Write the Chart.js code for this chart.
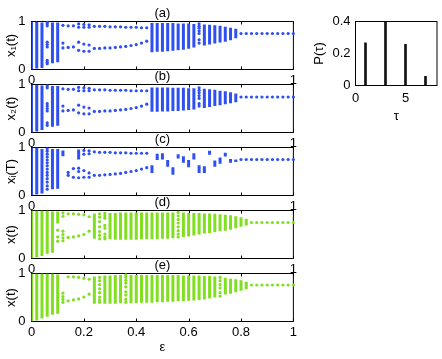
<!DOCTYPE html>
<html><head><meta charset="utf-8">
<script src="https://cdn.jsdelivr.net/npm/chart.js@4"></script>
<style>
html,body{margin:0;padding:0;background:#fff;}
#wrap{position:relative;width:442px;height:359px;overflow:hidden;background:#fff;}
canvas{position:absolute;}
</style></head><body><div id="wrap"></div>
<script>
// ---------- DATA ----------
const xTickVals = [0, 0.2, 0.4, 0.6, 0.8, 1];
const xLabelsFull = ['0', '0.2', '0.4', '0.6', '0.8', '1'];
const xLabelsEnds = ['0', '', '', '', '', '1'];
const yTickVals = [0, 1];
const yLabels = ['0', '1'];

// panel (a)
const aBandEps = [0, 0.02, 0.04, 0.08, 0.10, 0.46, 0.48, 0.50, 0.52, 0.54, 0.56, 0.58, 0.60, 0.62, 0.66, 0.68, 0.70, 0.72, 0.74, 0.76, 0.78];
const aBandLo  = [0, 0.02, 0.03, 0.13, 0.15, 0.36, 0.37, 0.37, 0.38, 0.39, 0.40, 0.41, 0.43, 0.46, 0.50, 0.52, 0.54, 0.56, 0.58, 0.61, 0.65];
const aBandHi  = [1, 1, 0.98, 0.98, 0.98, 0.97, 0.97, 0.97, 0.97, 0.97, 0.96, 0.96, 0.96, 0.95, 0.94, 0.93, 0.92, 0.91, 0.89, 0.87, 0.85];
const aDotEps  = [0.06, 0.12, 0.14, 0.16, 0.18, 0.20, 0.22, 0.24, 0.26, 0.28, 0.30, 0.32, 0.34, 0.36, 0.38, 0.40, 0.42, 0.44, 0.64, 0.80, 0.82, 0.84, 0.86, 0.88, 0.90, 0.92, 0.94, 0.96, 0.98, 1.00];
const aDotVals = [[0.98, 0.95, 0.91, 0.57, 0.52, 0.47, 0.19, 0.15, 0.12], [0.92, 0.55, 0.45], [0.91, 0.46], [0.91, 0.47], [0.95, 0.88, 0.57, 0.40], [0.94, 0.88, 0.53, 0.38], [0.93, 0.88, 0.51, 0.38], [0.90, 0.44], [0.90, 0.44], [0.90, 0.45], [0.89, 0.45], [0.89, 0.46], [0.89, 0.47], [0.88, 0.48], [0.88, 0.50], [0.88, 0.52], [0.87, 0.55], [0.87, 0.59], [0.95, 0.90, 0.86, 0.80, 0.75, 0.62, 0.55], [0.75], [0.75], [0.75], [0.75], [0.75], [0.75], [0.75], [0.75], [0.75], [0.75], [0.75]];

// panel (b)
const bBandEps = [0, 0.02, 0.04, 0.08, 0.10, 0.46, 0.48, 0.50, 0.52, 0.54, 0.56, 0.58, 0.60, 0.62, 0.66, 0.68, 0.70, 0.72, 0.74, 0.76, 0.78];
const bBandLo  = [0, 0.02, 0.05, 0.12, 0.14, 0.43, 0.43, 0.44, 0.44, 0.45, 0.45, 0.46, 0.47, 0.48, 0.51, 0.53, 0.55, 0.57, 0.59, 0.61, 0.63];
const bBandHi  = [1, 1, 0.98, 0.97, 0.97, 0.94, 0.94, 0.94, 0.94, 0.93, 0.93, 0.93, 0.92, 0.92, 0.91, 0.90, 0.89, 0.87, 0.86, 0.84, 0.81];
const bDotEps  = [0.06, 0.12, 0.14, 0.16, 0.18, 0.20, 0.22, 0.24, 0.26, 0.28, 0.30, 0.32, 0.34, 0.36, 0.38, 0.40, 0.42, 0.44, 0.64, 0.80, 0.82, 0.84, 0.86, 0.88, 0.90, 0.92, 0.94, 0.96, 0.98, 1.00];
const bDotVals = [[0.97, 0.93, 0.60, 0.55, 0.50, 0.45, 0.20, 0.15], [0.91, 0.55, 0.45], [0.90, 0.46], [0.90, 0.47], [0.94, 0.87, 0.57, 0.41], [0.93, 0.87, 0.53, 0.39], [0.92, 0.87, 0.51, 0.39], [0.89, 0.44], [0.89, 0.44], [0.89, 0.45], [0.88, 0.45], [0.88, 0.46], [0.88, 0.47], [0.88, 0.48], [0.87, 0.50], [0.87, 0.52], [0.87, 0.55], [0.87, 0.59], [0.93, 0.88, 0.83, 0.77, 0.71, 0.60, 0.55], [0.74], [0.74], [0.74], [0.74], [0.74], [0.74], [0.74], [0.74], [0.74], [0.74], [0.74]];

// panel (c)
const cBandEps = [0, 0.02, 0.04, 0.08, 0.10, 0.12, 0.18, 0.46, 0.48, 0.50, 0.52, 0.54, 0.56, 0.58, 0.60, 0.62, 0.64, 0.66, 0.68, 0.70, 0.72, 0.74, 0.76, 0.78];
const cBandLo  = [0, 0.02, 0.04, 0.13, 0.14, 0.82, 0.75, 0.47, 0.74, 0.75, 0.60, 0.43, 0.77, 0.68, 0.59, 0.75, 0.47, 0.47, 0.85, 0.60, 0.66, 0.81, 0.68, 0.70];
const cBandHi  = [1, 1, 0.97, 0.97, 0.97, 0.94, 0.96, 0.63, 0.87, 0.88, 0.74, 0.59, 0.86, 0.82, 0.74, 0.88, 0.63, 0.61, 0.93, 0.73, 0.79, 0.89, 0.76, 0.75];
const cDotEps  = [0.06, 0.14, 0.16, 0.18, 0.20, 0.22, 0.24, 0.26, 0.28, 0.30, 0.32, 0.34, 0.36, 0.38, 0.40, 0.42, 0.44, 0.80, 0.82, 0.84, 0.86, 0.88, 0.90, 0.92, 0.94, 0.96, 0.98, 1.00];
const cDotVals = [[0.97, 0.92, 0.86, 0.80, 0.74, 0.68, 0.62, 0.55, 0.48, 0.42, 0.35, 0.28, 0.20, 0.13], [0.48, 0.42], [0.56, 0.38], [0.57, 0.50, 0.37], [0.94, 0.86, 0.52, 0.38], [0.93, 0.87, 0.47, 0.38], [0.91, 0.42], [0.90, 0.42], [0.90, 0.43], [0.90, 0.44], [0.89, 0.45], [0.89, 0.46], [0.89, 0.48], [0.88, 0.50], [0.88, 0.52], [0.88, 0.55], [0.88, 0.58], [0.75], [0.75], [0.75], [0.75], [0.75], [0.75], [0.75], [0.75], [0.75], [0.75], [0.75]];

// panel (d)
const dBandEps = [0, 0.02, 0.04, 0.06, 0.08, 0.10, 0.24, 0.30, 0.32, 0.34, 0.36, 0.38, 0.40, 0.42, 0.44, 0.46, 0.48, 0.50, 0.52, 0.54, 0.58, 0.60, 0.62, 0.64, 0.66, 0.68, 0.70, 0.72, 0.74, 0.76, 0.78, 0.80, 0.82];
const dBandLo  = [0, 0.02, 0.05, 0.10, 0.12, 0.73, 0.41, 0.40, 0.39, 0.39, 0.39, 0.39, 0.39, 0.40, 0.40, 0.40, 0.40, 0.41, 0.41, 0.42, 0.45, 0.46, 0.48, 0.50, 0.52, 0.53, 0.55, 0.57, 0.58, 0.60, 0.63, 0.66, 0.69];
const dBandHi  = [1, 1, 1, 1, 0.98, 0.98, 0.94, 0.95, 0.95, 0.96, 0.96, 0.96, 0.96, 0.96, 0.96, 0.96, 0.96, 0.96, 0.96, 0.96, 0.96, 0.95, 0.95, 0.95, 0.94, 0.94, 0.93, 0.92, 0.91, 0.90, 0.88, 0.86, 0.83];
const dDotEps  = [0.10, 0.12, 0.14, 0.16, 0.18, 0.20, 0.22, 0.26, 0.28, 0.56, 0.84, 0.86, 0.88, 0.90, 0.92, 0.94, 0.96, 0.98, 1.00];
const dDotVals = [[0.59, 0.45, 0.36], [0.95, 0.88, 0.57, 0.50, 0.43, 0.37], [0.93, 0.44], [0.93, 0.45], [0.92, 0.47], [0.91, 0.50], [0.87, 0.57], [0.93, 0.86, 0.77, 0.66, 0.56, 0.48, 0.41], [0.94, 0.89, 0.84, 0.69, 0.63, 0.51, 0.45, 0.41], [0.96, 0.89, 0.81, 0.74, 0.66, 0.58, 0.51, 0.45], [0.75], [0.75], [0.75], [0.75], [0.75], [0.75], [0.75], [0.75], [0.75]];

// panel (e)
const eBandEps = [0, 0.02, 0.04, 0.06, 0.08, 0.10, 0.24, 0.28, 0.30, 0.32, 0.34, 0.38, 0.40, 0.42, 0.44, 0.46, 0.48, 0.50, 0.52, 0.54, 0.56, 0.58, 0.60, 0.62, 0.64, 0.66, 0.68, 0.70, 0.74, 0.76, 0.78, 0.80, 0.82];
const eBandLo  = [0, 0.02, 0.06, 0.10, 0.14, 0.16, 0.37, 0.37, 0.37, 0.37, 0.38, 0.38, 0.38, 0.39, 0.39, 0.39, 0.40, 0.40, 0.41, 0.41, 0.42, 0.42, 0.43, 0.44, 0.45, 0.46, 0.48, 0.50, 0.56, 0.58, 0.61, 0.64, 0.67];
const eBandHi  = [1, 1, 1, 1, 1, 0.98, 0.94, 0.96, 0.96, 0.97, 0.97, 0.97, 0.97, 0.97, 0.97, 0.97, 0.97, 0.97, 0.97, 0.97, 0.97, 0.96, 0.96, 0.96, 0.96, 0.95, 0.95, 0.94, 0.91, 0.89, 0.88, 0.86, 0.83];
const eDotEps  = [0.12, 0.14, 0.16, 0.18, 0.20, 0.22, 0.26, 0.36, 0.72, 0.84, 0.86, 0.88, 0.90, 0.92, 0.94, 0.96, 0.98, 1.00];
const eDotVals = [[0.59, 0.52, 0.46, 0.40], [0.93, 0.43], [0.93, 0.45], [0.92, 0.47], [0.90, 0.51], [0.88, 0.57], [0.92, 0.85, 0.77, 0.68, 0.60, 0.51, 0.45, 0.40], [0.97, 0.92, 0.86, 0.80, 0.72, 0.62, 0.55, 0.46, 0.40], [0.92, 0.85, 0.77, 0.70, 0.60, 0.53], [0.76], [0.76], [0.76], [0.76], [0.76], [0.76], [0.76], [0.76], [0.76]];

// inset
const tauVals = [1, 3, 5, 7];
const pTauVals = [0.267, 0.42, 0.257, 0.057];
const insetXTicks = [0, 5];
const insetYTicks = [0, 0.2, 0.4];
const insetYLabels = ['0', '0.2', '0.4'];

// ---------- STYLE / LAYOUT ----------
const BLUE = '#2e50f2', GREEN = '#80e020';
const FONT = "'Liberation Sans', Arial, Helvetica, sans-serif";
Chart.defaults.font.family = FONT;
Chart.defaults.font.size = 13;
Chart.defaults.color = '#000';

const boxPlugin = {
  id: 'box',
  beforeDatasetsDraw(chart, args, opts) {
    const {ctx, chartArea: a} = chart;
    ctx.save();
    ctx.strokeStyle = '#000';
    ctx.lineWidth = 1;
    ctx.strokeRect(a.left, a.top, a.right - a.left, a.bottom - a.top);
    if (opts && opts.inner) {
      const xs = chart.scales.x;
      ctx.beginPath();
      xs.ticks.forEach(t => {
        const p = Math.round(xs.getPixelForValue(t.value)) + 0.5;
        ctx.moveTo(p, a.bottom); ctx.lineTo(p, a.bottom - 3);
        ctx.moveTo(p, a.top); ctx.lineTo(p, a.top + 3);
      });
      ctx.stroke();
    }
    ctx.restore();
  }
};

const wrap = document.getElementById('wrap');
function addCanvas(left, top, w, h) {
  const c = document.createElement('canvas');
  c.width = w; c.height = h;
  c.style.left = left + 'px'; c.style.top = top + 'px';
  c.style.width = w + 'px'; c.style.height = h + 'px';
  wrap.appendChild(c);
  return c;
}

const panels = [
  {top: 21.5, bottom: 69.5, title: '(a)', ylab: 'x\u2081(t)', be: aBandEps, bl: aBandLo, bh: aBandHi, de: aDotEps, dv: aDotVals, color: BLUE, last: false},
  {top: 84.5, bottom: 132.5, title: '(b)', ylab: 'x\u2082(t)', be: bBandEps, bl: bBandLo, bh: bBandHi, de: bDotEps, dv: bDotVals, color: BLUE, last: false},
  {top: 147.5, bottom: 195.5, title: '(c)', ylab: 'x\u1D62(T)', be: cBandEps, bl: cBandLo, bh: cBandHi, de: cDotEps, dv: cDotVals, color: BLUE, last: false},
  {top: 210.5, bottom: 258.5, title: '(d)', ylab: 'x(t)', be: dBandEps, bl: dBandLo, bh: dBandHi, de: dDotEps, dv: dDotVals, color: GREEN, last: false},
  {top: 273.5, bottom: 321.5, title: '(e)', ylab: 'x(t)', be: eBandEps, bl: eBandLo, bh: eBandHi, de: eDotEps, dv: eDotVals, color: GREEN, last: true}
];

const TITLE_H = 13 * 1.2;
const PLOT_LEFT = 31.5, PLOT_RIGHT = 293.5, CW = 300;

panels.forEach(p => {
  const canvasTop = Math.floor(p.top - TITLE_H);
  const padTop = p.top - TITLE_H - canvasTop;
  const xH = p.last ? 34 : 20;
  const H = Math.ceil(p.bottom - canvasTop + xH);
  const padBottom = H - (p.bottom - canvasTop) - xH;
  const canvas = addCanvas(0, canvasTop, CW, H);
  const bands = p.be.map((e, i) => ({x: e, y: [p.bl[i], p.bh[i]]}));
  const dots = [];
  p.de.forEach((e, i) => p.dv[i].forEach(v => dots.push({x: e, y: v})));
  const xLabels = p.last ? xLabelsFull : xLabelsEnds;
  new Chart(canvas, {
    type: 'scatter',
    data: {
      datasets: [
        {type: 'bar', data: bands, backgroundColor: p.color, borderWidth: 0, barThickness: 3, grouped: false, inflateAmount: 0},
        {type: 'scatter', data: dots, backgroundColor: p.color, borderWidth: 0, pointRadius: 1.6, pointHoverRadius: 1.6, clip: false}
      ]
    },
    options: {
      responsive: false, animation: false, devicePixelRatio: 1,
      events: [],
      layout: {padding: {left: 0, right: CW - PLOT_RIGHT, top: padTop, bottom: padBottom}},
      plugins: {
        legend: {display: false}, tooltip: {enabled: false},
        title: {display: true, text: p.title, fullSize: false, padding: {top: 0, bottom: 0}, font: {size: 13, weight: 'normal'}, color: '#000'},
        box: {inner: true}
      },
      scales: {
        x: {
          type: 'linear', min: 0, max: 1, offset: false,
          grid: {display: false, drawTicks: false}, border: {display: false},
          afterBuildTicks: s => { s.ticks = xTickVals.map(v => ({value: v})); },
          afterFit: s => { s.height = xH; },
          ticks: {autoSkip: false, maxRotation: 0, padding: 3, font: {size: 13}, callback: (v, i) => xLabels[i]},
          title: {display: p.last, text: '\u03B5', padding: {top: 0, bottom: 0}, font: {size: 13}}
        },
        y: {
          type: 'linear', min: 0, max: 1,
          grid: {display: false, drawTicks: false}, border: {display: false},
          afterBuildTicks: s => { s.ticks = yTickVals.map(v => ({value: v})); },
          afterFit: s => { s.width = PLOT_LEFT; },
          ticks: {autoSkip: false, padding: 6, font: {size: 13}, callback: (v, i) => yLabels[i]},
          title: {display: true, text: p.ylab, padding: {top: 4, bottom: 0}, font: {size: 13}}
        }
      }
    },
    plugins: [boxPlugin]
  });
});

// inset P(tau)
(function () {
  const L = 300, W = 142, H = 125;
  const plotLeft = 55.5, plotRight = 137, plotTop = 21.5, plotBottom = 85.5;
  const canvas = addCanvas(L, 0, W, H);
  const xH = 39;
  new Chart(canvas, {
    type: 'bar',
    data: {datasets: [{data: tauVals.map((t, i) => ({x: t, y: pTauVals[i]})), backgroundColor: '#111', borderWidth: 0, barThickness: 2, grouped: false}]},
    options: {
      responsive: false, animation: false, devicePixelRatio: 1, events: [],
      layout: {padding: {left: 0, right: W - plotRight, top: plotTop, bottom: H - plotBottom - xH}},
      plugins: {legend: {display: false}, tooltip: {enabled: false}, box: {inner: false}},
      scales: {
        x: {
          type: 'linear', min: 0, max: 8.15, offset: false,
          grid: {display: false, drawTicks: false}, border: {display: false},
          afterBuildTicks: s => { s.ticks = insetXTicks.map(v => ({value: v})); },
          afterFit: s => { s.height = xH; },
          ticks: {autoSkip: false, maxRotation: 0, padding: 5, font: {size: 13}, callback: v => String(v)},
          title: {display: true, text: '\u03C4', padding: {top: 0, bottom: 0}, font: {size: 13}}
        },
        y: {
          type: 'linear', min: 0, max: 0.4,
          grid: {display: false, drawTicks: false}, border: {display: false},
          afterBuildTicks: s => { s.ticks = insetYTicks.map(v => ({value: v})); },
          afterFit: s => { s.width = plotLeft; },
          ticks: {autoSkip: false, padding: 5, font: {size: 13}, callback: (v, i) => insetYLabels[i]},
          title: {display: true, text: 'P(\u03C4)', padding: {top: 12, bottom: 0}, font: {size: 13}}
        }
      }
    },
    plugins: [boxPlugin]
  });
})();
</script>
</body></html>
